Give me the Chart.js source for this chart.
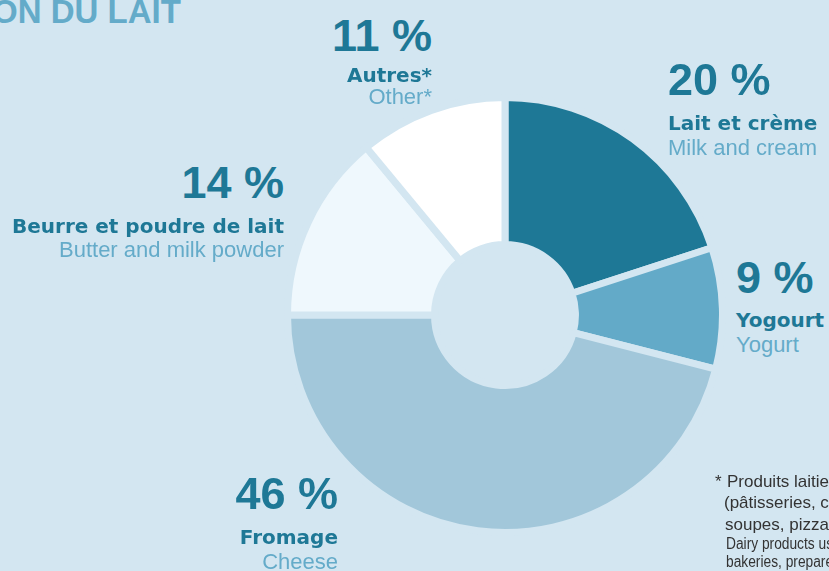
<!DOCTYPE html>
<html lang="fr">
<head>
<meta charset="utf-8">
<script src="https://cdn.jsdelivr.net/npm/chart.js@4.4.0/dist/chart.umd.min.js"></script>
<style>
    html, body {
        margin: 0;
        padding: 0;
        width: 829px;
        height: 571px;
        overflow: hidden;
        background: #d3e6f1;
        position: relative;
        font-family: "Liberation Sans", Arial, sans-serif;
    }
    #chart-box {
        position: absolute;
        left: 284px;
        top: 94px;
        width: 442px;
        height: 442px;
    }
    .txt {
        position: absolute;
        line-height: 1;
        white-space: nowrap;
    }
    .pct {
        font-family: "Liberation Sans", Arial, sans-serif;
        font-weight: bold;
        font-size: 45px;
        color: #1e7896;
    }
    .fr {
        font-family: "DejaVu Sans", sans-serif;
        font-weight: bold;
        font-size: 20px;
        color: #1e7896;
    }
    .en {
        font-family: "Liberation Sans", Arial, sans-serif;
        font-size: 22px;
        color: #64abc9;
    }
    .title {
        font-weight: bold;
        font-size: 33px;
        color: #64abc9;
    }
    .note-fr {
        font-size: 17px;
        color: #333333;
    }
    .note-en {
        font-family: "Liberation Sans", sans-serif;
        font-size: 16px;
        color: #333333;
        transform: scaleX(0.86);
        transform-origin: left top;
    }
</style>
</head>
<body>
<div class="txt title" style="left:-8px; top:-5px;">ON DU LAIT</div>
<div id="chart-box"><canvas id="donut"></canvas></div>
<div id="labels"></div>
<div id="notes"></div>

<script>
// slices, clockwise from 12 o'clock
const categoriesFr = ['Lait et crème', 'Yogourt', 'Fromage', 'Beurre et poudre de lait', 'Autres*'];
const categoriesEn = ['Milk and cream', 'Yogurt', 'Cheese', 'Butter and milk powder', 'Other*'];
const shares = [20, 9, 46, 14, 11];
const sliceColors = ['#1e7896', '#63aac8', '#a2c7da', '#eff8fd', '#ffffff'];

const noteFr = ['Produits laitiers utilisés dans', '(pâtisseries, confiseries,', 'soupes, pizzas, etc.)'];
const noteEn = ['Dairy products used in food', 'bakeries, prepared foods, etc.'];

const bgColor = '#d3e6f1';

new Chart(document.getElementById('donut'), {
    type: 'doughnut',
    data: {
        labels: categoriesFr,
        datasets: [{
            data: shares,
            backgroundColor: sliceColors,
            borderColor: bgColor,
            borderWidth: 7,
            hoverOffset: 0
        }]
    },
    options: {
        responsive: true,
        maintainAspectRatio: false,
        animation: false,
        cutout: '32.4%',
        rotation: 0,
        layout: { padding: 0 },
        events: [],
        plugins: {
            legend: { display: false },
            tooltip: { enabled: false }
        }
    }
});

// label placement: anchor x, side, baselines for the three lines
const labelSpots = [
    { x: 668, side: 'left',  base: [95, 130, 156] },
    { x: 736, side: 'left',  base: [293, 327, 353] },
    { x: 338, side: 'right', base: [509, 544, 570] },
    { x: 284, side: 'right', base: [198, 233, 258] },
    { x: 432, side: 'right', base: [51, 82, 105] }
];
const sizes = { pct: 45, fr: 20, en: 22 };

function addText(parent, cls, text, spot, baseline) {
    const el = document.createElement('div');
    el.className = 'txt ' + cls;
    el.textContent = text;
    el.style.top = (baseline - sizes[cls] * 0.846) + 'px';
    if (spot.side === 'left') {
        el.style.left = spot.x + 'px';
    } else {
        el.style.right = (829 - spot.x) + 'px';
        el.style.textAlign = 'right';
    }
    parent.appendChild(el);
}

const labelsEl = document.getElementById('labels');
shares.forEach((v, i) => {
    const spot = labelSpots[i];
    addText(labelsEl, 'pct', `${v} %`, spot, spot.base[0]);
    addText(labelsEl, 'fr', categoriesFr[i], spot, spot.base[1]);
    addText(labelsEl, 'en', categoriesEn[i], spot, spot.base[2]);
});

// footnote
const notesEl = document.getElementById('notes');
function addNote(cls, text, left, baseline, size) {
    const el = document.createElement('div');
    el.className = 'txt ' + cls;
    el.textContent = text;
    el.style.left = left + 'px';
    el.style.top = (baseline - size * 0.846) + 'px';
    notesEl.appendChild(el);
}
addNote('note-fr', '*', 715, 487, 17);
addNote('note-fr', noteFr[0], 727, 487, 17);
addNote('note-fr', noteFr[1], 724, 508, 17);
addNote('note-fr', noteFr[2], 725, 530, 17);
addNote('note-en', noteEn[0], 726, 550, 16);
addNote('note-en', noteEn[1], 726, 568, 16);
</script>
</body>
</html>
